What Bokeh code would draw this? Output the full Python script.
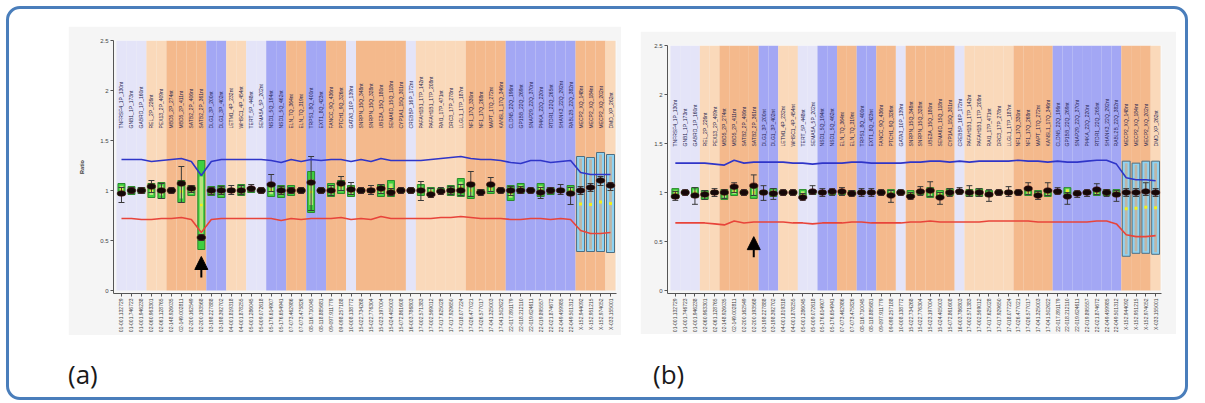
import numpy as np
from math import pi
from bokeh.plotting import figure
from bokeh.layouts import column, row
from bokeh.models import Range1d, FixedTicker, Div, Arrow, NormalHead
from bokeh.core.properties import value
from bokeh.embed import file_html
from bokeh.resources import INLINE

# ---------------- data ----------------
probes = ["TNFRSF4_1P_130nt", "GNB1_1P_173nt", "GABRD_1P_160nt", "REL_2P_226nt", "PEX13_2P_409nt",
          "MBD5_2P_274nt", "MBD5_2P_411nt", "SATB2_2P_406nt", "SATB2_2P_361nt", "DLG1_3P_200nt",
          "DLG1_3P_402nt", "LETM1_4P_232nt", "WHSC1_4P_454nt", "TERT_5P_448nt", "SEMA5A_5P_202nt",
          "NSD1_5Q_194nt", "NSD1_5Q_462nt", "ELN_7Q_364nt", "ELN_7Q_319nt", "TRPS1_8Q_400nt",
          "EXT1_8Q_423nt", "FANCC_9Q_436nt", "PTCH1_9Q_326nt", "GATA3_10P_139nt", "SNRPN_15Q_348nt",
          "SNRPN_15Q_328nt", "UBE3A_15Q_180nt", "SEMA6D_15Q_118nt", "CYP1A1_15Q_301nt", "CREBBP_16P_172nt",
          "PAFAH1B1_17P_142nt", "PAFAH1B1_17P_208nt", "RAI1_17P_471nt", "DRC3_17P_278nt", "LLGL1_17P_187nt",
          "NF1_17Q_330nt", "NF1_17Q_268nt", "MAPT_17Q_272nt", "KANSL1_17Q_346nt", "CLDN5_22Q_196nt",
          "GP1BB_22Q_269nt", "SNAP29_22Q_370nt", "PI4KA_22Q_220nt", "RTDR1_22Q_265nt", "SHANK3_22Q_292nt",
          "RABL2B_22Q_382nt", "MECP2_XQ_148nt", "MECP2_XQ_184nt", "MECP2_XQ_202nt", "DMD_XP_262nt"]

positions = ["01-001.132729", "01-001.746723", "01-001.946238", "02-060.963301", "02-061.128765",
             "02-148.926035", "02-149.002811", "02-200.162549", "02-200.193568", "03-198.227888",
             "03-198.392702", "04-001.819318", "04-001.878255", "05-001.286045", "05-009.072618",
             "05-176.614907", "05-176.654941", "07-073.462986", "07-073.475826", "08-116.710045",
             "08-118.885681", "09-097.911779", "09-098.257188", "10-008.138772", "15-022.734268",
             "15-022.776304", "15-023.197004", "15-024.405003", "15-072.861608", "16-003.786803",
             "17-002.571383", "17-002.569012", "17-017.625028", "17-017.929650", "17-018.077224",
             "17-026.477021", "17-026.577017", "17-041.325003", "17-041.502622", "22-017.891179",
             "22-018.212110", "22-019.624611", "22-019.895557", "22-021.874672", "22-049.459985",
             "22-049.501312", "X-152.944092", "X-152.951215", "X-152.974052", "X-033.155001"]

# background region per probe: L lavender, l light orange, O orange, B blue
bands = list("LLL" "ll" "OOOO" "BB" "ll" "LL" "BB" "OO" "BB" "OO" "L" "OOOOO" "L" "lllll" "OOOO" "BBBBBBB" "OOO" "l")

# panel (a)
a_mean = [0.97, 1.00, 1.00, 1.04, 1.00, 1.00, 1.07, 1.02, 0.53, 1.00,
          1.00, 1.00, 1.00, 1.02, 1.00, 1.06, 1.00, 1.00, 1.00, 1.08,
          1.00, 1.00, 1.07, 1.01, 1.00, 1.00, 1.02, 0.98, 1.00, 1.00,
          1.00, 0.96, 0.99, 1.00, 1.00, 1.06, 0.98, 1.06, 1.00, 1.00,
          1.00, 1.00, 0.98, 1.00, 1.00, 0.97, 1.00, 1.03, 1.10, 1.05]
a_err_lo = [0.88, 0.97, 0.97, 0.98, 0.92, 0.97, 0.88, 0.98, 0.50, 0.96,
            0.96, 0.96, 0.96, 0.99, 0.97, 0.99, 0.96, 0.97, 0.97, 0.80,
            0.97, 0.95, 1.00, 0.96, 0.97, 0.96, 0.97, 0.95, 0.97, 0.97,
            0.90, 0.93, 0.96, 0.96, 0.95, 0.94, 0.95, 0.99, 0.97, 0.95,
            0.97, 0.97, 0.92, 0.97, 0.96, 0.86, 0.96, 0.99, 1.05, 1.00]
a_err_hi = [1.03, 1.03, 1.03, 1.10, 1.07, 1.03, 1.24, 1.05, 0.56, 1.03,
            1.04, 1.05, 1.05, 1.06, 1.03, 1.16, 1.04, 1.03, 1.03, 1.34,
            1.03, 1.05, 1.14, 1.08, 1.03, 1.05, 1.06, 1.02, 1.03, 1.03,
            1.09, 1.02, 1.03, 1.04, 1.06, 1.19, 1.01, 1.13, 1.03, 1.04,
            1.04, 1.03, 1.03, 1.03, 1.06, 1.03, 1.04, 1.07, 1.14, 1.08]
a_box_lo = [0.95, 0.96, 0.97, 0.93, 0.92, 0.98, 0.88, 0.95, 0.41, 0.95,
            0.93, 0.98, 0.95, 0.98, 0.98, 0.94, 0.93, 0.95, 0.98, 0.78,
            0.98, 0.94, 0.97, 0.94, 0.98, 0.98, 0.94, 0.94, 0.98, 0.98,
            0.95, 0.95, 0.98, 0.95, 0.94, 0.92, 0.97, 0.97, 0.98, 0.90,
            0.97, 0.98, 0.94, 0.96, 0.98, 0.95, 0.39, 0.39, 0.39, 0.38]
a_box_hi = [1.07, 1.04, 1.03, 1.07, 1.08, 1.02, 1.10, 1.05, 1.30, 1.04,
            1.05, 1.02, 1.06, 1.03, 1.02, 1.07, 1.05, 1.05, 1.02, 1.19,
            1.02, 1.07, 1.10, 1.05, 1.02, 1.02, 1.06, 1.10, 1.02, 1.02,
            1.06, 1.03, 1.02, 1.05, 1.12, 1.08, 1.01, 1.06, 1.02, 1.05,
            1.07, 1.02, 1.07, 1.03, 1.02, 1.05, 1.34, 1.33, 1.38, 1.36]
a_upper = [1.31, 1.31, 1.31, 1.29, 1.30, 1.31, 1.32, 1.29, 1.15, 1.29,
           1.31, 1.31, 1.31, 1.31, 1.31, 1.30, 1.28, 1.31, 1.29, 1.31,
           1.30, 1.31, 1.31, 1.29, 1.31, 1.29, 1.32, 1.30, 1.30, 1.30,
           1.30, 1.31, 1.32, 1.33, 1.34, 1.32, 1.31, 1.31, 1.30, 1.28,
           1.27, 1.30, 1.30, 1.28, 1.29, 1.30, 1.18, 1.16, 1.16, 1.16]
a_lower = [0.72, 0.72, 0.71, 0.71, 0.72, 0.72, 0.73, 0.71, 0.58, 0.71,
           0.72, 0.72, 0.72, 0.72, 0.72, 0.72, 0.70, 0.72, 0.71, 0.72,
           0.72, 0.72, 0.73, 0.71, 0.72, 0.71, 0.74, 0.72, 0.72, 0.72,
           0.72, 0.72, 0.73, 0.73, 0.74, 0.73, 0.72, 0.72, 0.72, 0.71,
           0.71, 0.72, 0.72, 0.71, 0.72, 0.71, 0.60, 0.57, 0.57, 0.58]

# panel (b)
b_mean = [0.96, 1.00, 0.97, 0.98, 1.00, 1.00, 1.06, 1.00, 1.07, 1.00,
          0.99, 1.00, 1.00, 0.95, 1.01, 1.00, 1.01, 1.01, 0.99, 1.00,
          1.00, 1.00, 0.97, 1.00, 0.96, 1.01, 1.02, 0.95, 1.00, 1.01,
          1.00, 1.00, 0.98, 1.00, 1.00, 1.00, 1.04, 0.97, 1.02, 1.01,
          0.96, 0.99, 1.00, 1.03, 1.00, 0.98, 1.00, 1.00, 1.01, 1.00]
b_err_lo = [0.92, 0.97, 0.88, 0.93, 0.96, 0.94, 1.00, 0.97, 0.97, 0.92,
            0.93, 0.97, 0.97, 0.92, 0.98, 0.96, 0.97, 0.97, 0.96, 0.96,
            0.96, 0.97, 0.90, 0.97, 0.93, 0.97, 0.96, 0.88, 0.96, 0.98,
            0.96, 0.96, 0.91, 0.97, 0.96, 0.97, 0.98, 0.93, 0.97, 0.98,
            0.88, 0.95, 0.96, 0.98, 0.96, 0.91, 0.96, 0.96, 0.97, 0.96]
b_err_hi = [1.01, 1.03, 1.05, 1.02, 1.04, 1.03, 1.10, 1.03, 1.18, 1.07,
            1.04, 1.03, 1.03, 0.99, 1.07, 1.04, 1.04, 1.05, 1.02, 1.04,
            1.04, 1.03, 1.02, 1.03, 1.00, 1.06, 1.11, 1.00, 1.04, 1.05,
            1.07, 1.04, 1.03, 1.03, 1.06, 1.03, 1.10, 1.01, 1.10, 1.05,
            1.00, 1.02, 1.03, 1.09, 1.03, 1.02, 1.04, 1.04, 1.10, 1.04]
b_box_lo = [0.94, 0.98, 0.95, 0.93, 0.98, 0.93, 0.97, 0.98, 0.94, 0.98,
            0.96, 0.98, 0.98, 0.94, 0.98, 0.98, 0.98, 0.98, 0.97, 0.98,
            0.98, 0.98, 0.96, 0.98, 0.95, 0.98, 0.95, 0.95, 0.97, 0.99,
            0.96, 0.96, 0.96, 0.98, 0.98, 0.98, 0.97, 0.96, 0.96, 0.99,
            0.98, 0.97, 0.98, 0.97, 0.97, 0.96, 0.35, 0.38, 0.38, 0.37]
b_box_hi = [1.04, 1.02, 1.05, 1.02, 1.02, 1.03, 1.05, 1.02, 1.06, 1.02,
            1.04, 1.02, 1.02, 1.03, 1.02, 1.02, 1.02, 1.02, 1.02, 1.02,
            1.02, 1.02, 1.03, 1.02, 1.02, 1.02, 1.05, 1.02, 1.04, 1.02,
            1.03, 1.04, 1.02, 1.02, 1.02, 1.02, 1.04, 1.02, 1.03, 1.02,
            1.05, 1.01, 1.02, 1.03, 1.03, 1.03, 1.32, 1.30, 1.32, 1.32]
b_upper = [1.30, 1.30, 1.30, 1.30, 1.29, 1.28, 1.33, 1.30, 1.31, 1.31,
           1.31, 1.31, 1.30, 1.30, 1.29, 1.30, 1.30, 1.30, 1.31, 1.31,
           1.30, 1.30, 1.30, 1.30, 1.31, 1.31, 1.32, 1.32, 1.31, 1.32,
           1.31, 1.32, 1.32, 1.32, 1.32, 1.33, 1.32, 1.32, 1.31, 1.32,
           1.31, 1.31, 1.32, 1.33, 1.33, 1.29, 1.15, 1.13, 1.13, 1.12]
b_lower = [0.69, 0.69, 0.69, 0.69, 0.68, 0.67, 0.71, 0.69, 0.70, 0.70,
           0.70, 0.70, 0.69, 0.69, 0.68, 0.69, 0.69, 0.69, 0.70, 0.70,
           0.69, 0.69, 0.69, 0.69, 0.70, 0.70, 0.71, 0.70, 0.70, 0.70,
           0.70, 0.70, 0.71, 0.71, 0.71, 0.71, 0.71, 0.70, 0.70, 0.70,
           0.70, 0.70, 0.70, 0.71, 0.71, 0.68, 0.57, 0.55, 0.55, 0.56]

arrow_probe = "SATB2_2P_361nt"
y_ticks = [0, 0.5, 1, 1.5, 2, 2.5]
y_tick_labels = ["0", "0.5", "1", "1.5", "2", "2.5"]

# ---------------- styling ----------------
BG = "#f5f5f5"
BAND_COL = {"L": "#e4e4f8", "l": "#fad9ba", "O": "#f4b98c", "B": "#a3a7f4"}
FONT = "Liberation Sans"


def panel(mean, elo, ehi, blo, bhi, upper, lower, label_y, arrow_y, title,
          fw, fh, bl, br, bt, bb):
    n = len(probes)
    p = figure(frame_width=fw, frame_height=fh,
               x_range=Range1d(-0.3, n + 0.1), y_range=Range1d(-0.03, 2.5),
               output_backend="svg", toolbar_location=None,
               min_border_left=bl, min_border_right=br,
               min_border_top=bt, min_border_bottom=bb,
               background_fill_color=BG, border_fill_color=BG,
               outline_line_color=None)
    p.grid.visible = False
    x = np.arange(n)
    xc = x + 0.5
    # background regions
    p.quad(left=x, right=x + 1, bottom=0, top=2.5,
           fill_color=[BAND_COL[b] for b in bands], line_color=None)

    is_x = np.array([s.startswith("X") for s in positions])
    blo_a = np.array(blo); bhi_a = np.array(bhi)
    h = bhi_a - blo_a
    # autosomal boxes
    m = ~is_x
    p.quad(left=x[m] + 0.15, right=x[m] + 0.85, bottom=blo_a[m], top=bhi_a[m],
           fill_color="#3fcf3f", line_color="#2c8a2c", line_width=1)
    p.quad(left=x[m] + 0.32, right=x[m] + 0.68, bottom=blo_a[m] + h[m] * 0.18,
           top=bhi_a[m] - h[m] * 0.18, fill_color="#b8e27e", line_color=None)
    p.rect(x=xc[m], y=(blo_a[m] + bhi_a[m]) / 2, width=0.25, height=2.5,
           height_units="screen", fill_color="#f2ef1a", line_color=None)
    # X-chromosome boxes
    p.quad(left=x[is_x] + 0.1, right=x[is_x] + 0.9, bottom=blo_a[is_x], top=bhi_a[is_x],
           fill_color="#8ed3f3", line_color="#4f6f82", line_width=1)
    p.quad(left=x[is_x] + 0.36, right=x[is_x] + 0.64, bottom=blo_a[is_x] + 0.02,
           top=bhi_a[is_x] - 0.02, fill_color="#bcb6a9", line_color=None)
    p.rect(x=xc[is_x], y=(blo_a[is_x] + bhi_a[is_x]) / 2, width=0.3, height=3,
           height_units="screen", fill_color="#f2ef1a", line_color=None)

    # error bars
    p.segment(x0=xc, y0=elo, x1=xc, y1=ehi, line_color="#3a3a3a", line_width=1)
    p.segment(x0=xc - 0.3, y0=elo, x1=xc + 0.3, y1=elo, line_color="#3a3a3a", line_width=1)
    p.segment(x0=xc - 0.3, y0=ehi, x1=xc + 0.3, y1=ehi, line_color="#3a3a3a", line_width=1)

    # thresholds
    p.line(xc, upper, line_color="#2f35c8", line_width=1.6)
    p.line(xc, lower, line_color="#e8443a", line_width=1.6)

    # ratio markers
    p.ellipse(x=xc, y=mean, width=0.85, height=5.5, height_units="screen",
              fill_color="#140808", line_color="#4a1010", line_width=0.6)

    # probe names
    p.text(x=xc, y=[label_y] * n, text=probes, angle=pi / 2,
           text_font=value(FONT), text_font_size="5px", text_color="#23234f",
           text_align="left", text_baseline="middle")

    # arrow
    ia = probes.index(arrow_probe) + 0.5
    p.add_layout(Arrow(end=NormalHead(size=13, fill_color="black", line_color="black"),
                       x_start=ia, y_start=arrow_y[0], x_end=ia, y_end=arrow_y[1],
                       line_color="black", line_width=2))

    # axes
    p.yaxis.ticker = FixedTicker(ticks=y_ticks)
    p.yaxis.major_label_overrides = {t: l for t, l in zip(y_ticks, y_tick_labels)}
    p.yaxis.minor_tick_line_color = None
    p.xaxis.ticker = FixedTicker(ticks=list(xc))
    p.xaxis.major_label_overrides = {float(c): s for c, s in zip(xc, positions)}
    p.xaxis.major_label_orientation = pi / 2
    p.xaxis.minor_tick_line_color = None
    for ax in (p.xaxis, p.yaxis):
        ax.axis_line_color = "#555555"
        ax.major_tick_line_color = "#555555"
        ax.major_tick_out = 3
        ax.major_tick_in = 0
        ax.major_label_text_font = FONT
        ax.major_label_text_color = "#444444"
        ax.major_label_standoff = 2
    p.yaxis.major_label_text_font_size = "6px"
    p.xaxis.major_label_text_font_size = "5px"
    if title:
        p.yaxis.axis_label = title
        p.yaxis.axis_label_text_font_size = "5.5px"
        p.yaxis.axis_label_text_font_style = "bold"
        p.yaxis.axis_label_text_font = FONT
        p.yaxis.axis_label_standoff = 12
    return p


pa = panel(a_mean, a_err_lo, a_err_hi, a_box_lo, a_box_hi, a_upper, a_lower,
           1.62, (0.13, 0.34), "Ratio", 503, 253, 45, 5, 14, 40)
pb = panel(b_mean, b_err_lo, b_err_hi, b_box_lo, b_box_hi, b_upper, b_lower,
           1.47, (0.34, 0.55), None, 494, 248, 27, 15, 13, 41)

pa.margin = (17, 0, 0, 59)
pb.margin = (22, 9, 0, 19)

lab_style = {"font-size": "26px", "font-family": "'Open Sans', sans-serif", "color": "#1a1a1a"}
lab_a = Div(text="(a)", width=60, height=38, styles=lab_style, margin=(21, 0, 3, 59))
lab_b = Div(text="(b)", width=60, height=38, styles=lab_style, margin=(21, 0, 3, 525))

layout = column(row(pa, pb), row(lab_a, lab_b),
                styles={"border": "3px solid #4a7ebb", "border-radius": "14px",
                        "background-color": "white"},
                margin=(6, 0, 0, 6))

open("out.html", "w").write(file_html(layout, INLINE))
